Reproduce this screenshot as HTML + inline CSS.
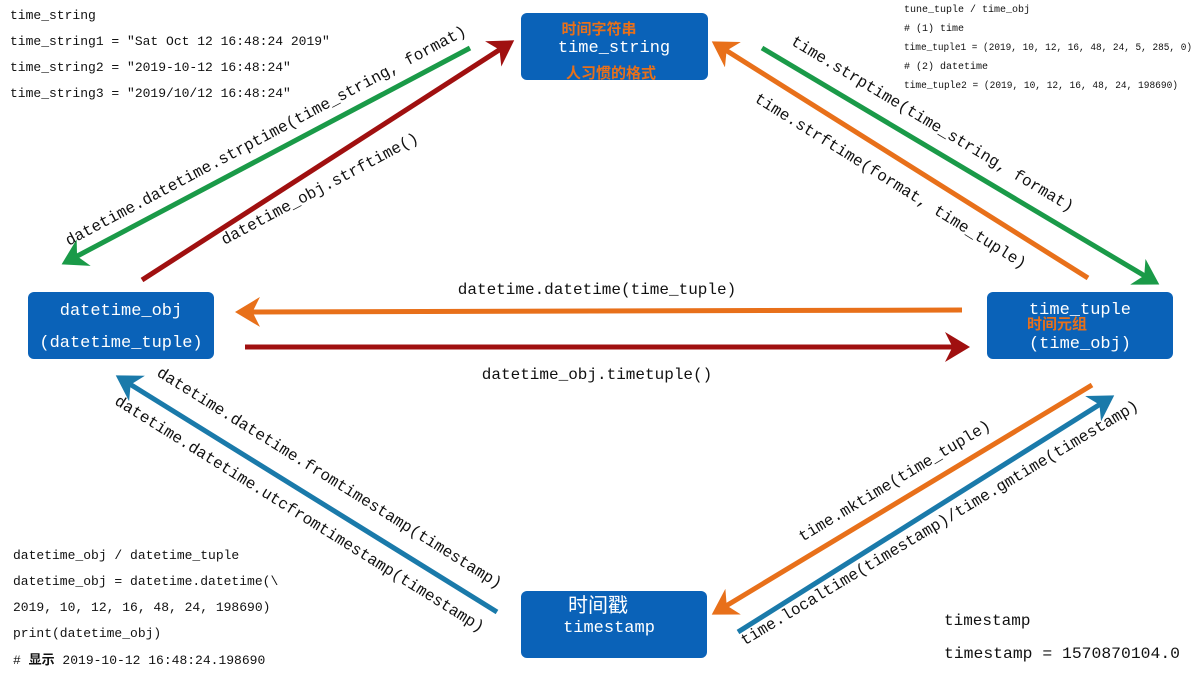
<!DOCTYPE html>
<html><head><meta charset="utf-8"><style>
body{margin:0;background:#fff;width:1200px;height:675px;overflow:hidden}
svg text{font-family:"Liberation Mono","Noto Sans CJK SC",monospace}
</style></head><body>
<svg width="1200" height="675" viewBox="0 0 1200 675" xmlns="http://www.w3.org/2000/svg">
<defs>
<marker id="g" markerWidth="6" markerHeight="6" refX="4" refY="3" orient="auto" markerUnits="strokeWidth"><path d="M0,0 L5,3 L0,6 L1.5,3z" fill="#1a9a48"/></marker>
<marker id="r" markerWidth="6" markerHeight="6" refX="4" refY="3" orient="auto" markerUnits="strokeWidth"><path d="M0,0 L5,3 L0,6 L1.5,3z" fill="#a01010"/></marker>
<marker id="o" markerWidth="6" markerHeight="6" refX="4" refY="3" orient="auto" markerUnits="strokeWidth"><path d="M0,0 L5,3 L0,6 L1.5,3z" fill="#e8701a"/></marker>
<marker id="b" markerWidth="6" markerHeight="6" refX="4" refY="3" orient="auto" markerUnits="strokeWidth"><path d="M0,0 L5,3 L0,6 L1.5,3z" fill="#1a7aaa"/></marker>
</defs>
<g fill="#0a62b8">
<rect x="521" y="13" width="187" height="67" rx="6"/>
<rect x="987" y="292" width="186" height="67" rx="6"/>
<rect x="28" y="292" width="186" height="67" rx="6"/>
<rect x="521" y="591" width="186" height="67" rx="6"/>
</g>
<g stroke-width="5" fill="none">
<line x1="470" y1="48" x2="66" y2="262" stroke="#1a9a48" marker-end="url(#g)"/>
<line x1="142" y1="280" x2="510" y2="43" stroke="#a01010" marker-end="url(#r)"/>
<line x1="1088" y1="278" x2="716" y2="44" stroke="#e8701a" marker-end="url(#o)"/>
<line x1="762" y1="48" x2="1155" y2="282" stroke="#1a9a48" marker-end="url(#g)"/>
<line x1="962" y1="310" x2="240" y2="312" stroke="#e8701a" marker-end="url(#o)"/>
<line x1="245" y1="347" x2="965" y2="347" stroke="#a01010" marker-end="url(#r)"/>
<line x1="497" y1="612" x2="120" y2="378" stroke="#1a7aaa" marker-end="url(#b)"/>
<line x1="1092" y1="385" x2="716" y2="612" stroke="#e8701a" marker-end="url(#o)"/>
<line x1="738" y1="632" x2="1110" y2="398" stroke="#1a7aaa" marker-end="url(#b)"/>
</g>
<g font-size="16" fill="#111" text-anchor="middle">
<text transform="translate(268,140) rotate(-28)">datetime.datetime.strptime(time_string, format)</text>
<text transform="translate(322,193) rotate(-28)">datetime_obj.strftime()</text>
<text transform="translate(888,185) rotate(32)">time.strftime(format, time_tuple)</text>
<text transform="translate(930,128) rotate(31)">time.strptime(time_string, format)</text>
<text x="597" y="294">datetime.datetime(time_tuple)</text>
<text x="597" y="379">datetime_obj.timetuple()</text>
<text transform="translate(327,482) rotate(32)">datetime.datetime.fromtimestamp(timestamp)</text>
<text transform="translate(297,518) rotate(32)">datetime.datetime.utcfromtimestamp(timestamp)</text>
<text transform="translate(897,485) rotate(-31)">time.mktime(time_tuple)</text>
<text transform="translate(942,527) rotate(-31)">time.localtime(timestamp)/time.gmtime(timestamp)</text>
</g>
<g fill="#fff" text-anchor="middle" font-size="17">
<text x="614" y="52">time_string</text>
<text x="1080" y="314">time_tuple</text>
<text x="1080" y="348">(time_obj)</text>
<text x="121" y="315">datetime_obj</text>
<text x="121" y="347">(datetime_tuple)</text>
<text x="598" y="612" font-size="20">时间戳</text>
<text x="609" y="632">timestamp</text>
</g>
<g fill="#e8701a" font-weight="bold" text-anchor="middle" font-size="15">
<text x="599" y="34">时间字符串</text>
<text x="611" y="78">人习惯的格式</text>
<text x="1057" y="329">时间元组</text>
</g>
<g font-size="13" fill="#111">
<text x="10" y="19">time_string</text>
<text x="10" y="45">time_string1 = "Sat Oct 12 16:48:24 2019"</text>
<text x="10" y="71">time_string2 = "2019-10-12 16:48:24"</text>
<text x="10" y="97">time_string3 = "2019/10/12 16:48:24"</text>
<text x="13" y="559">datetime_obj / datetime_tuple</text>
<text x="13" y="585">datetime_obj = datetime.datetime(\</text>
<text x="13" y="611">2019, 10, 12, 16, 48, 24, 198690)</text>
<text x="13" y="637">print(datetime_obj)</text>
<text x="13" y="664"># <tspan font-weight="bold">显示</tspan> 2019-10-12 16:48:24.198690</text>
</g>
<g font-size="10" fill="#111">
<text x="904" y="12">tune_tuple / time_obj</text>
<text x="904" y="31"># (1)  time</text>
<text x="904" y="50" textLength="288" lengthAdjust="spacingAndGlyphs">time_tuple1 = (2019, 10, 12, 16, 48, 24, 5, 285, 0)</text>
<text x="904" y="69"># (2)  datetime</text>
<text x="904" y="88" textLength="274" lengthAdjust="spacingAndGlyphs">time_tuple2 = (2019, 10, 12, 16, 48, 24, 198690)</text>
</g>
<g font-size="16" fill="#111">
<text x="944" y="625">timestamp</text>
<text x="944" y="658" textLength="236" lengthAdjust="spacingAndGlyphs">timestamp = 1570870104.0</text>
</g>
</svg>
</body></html>
